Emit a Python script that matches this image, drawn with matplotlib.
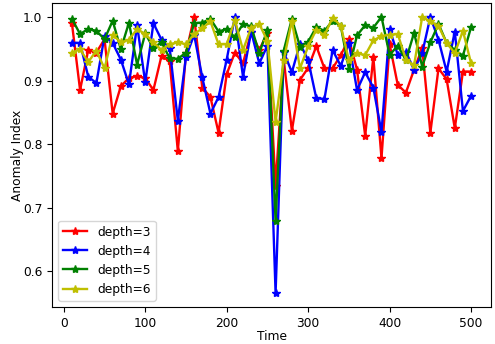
import numpy as np
import matplotlib
matplotlib.use("Agg")
import matplotlib.pyplot as plt

time = np.arange(10, 501, 10)

depth3 = [0.990, 0.885, 0.948, 0.944, 0.965, 0.848, 0.891, 0.904, 0.907, 0.904,
          0.885, 0.939, 0.930, 0.789, 0.943, 1.000, 0.889, 0.874, 0.818, 0.910,
          0.944, 0.927, 0.976, 0.948, 0.975, 0.735, 0.933, 0.821, 0.901, 0.920,
          0.954, 0.919, 0.919, 0.940, 0.965, 0.917, 0.813, 0.937, 0.778, 0.957,
          0.893, 0.881, 0.917, 0.951, 0.818, 0.919, 0.902, 0.825, 0.914, 0.914]

depth4 = [0.959, 0.959, 0.906, 0.896, 0.970, 0.959, 0.933, 0.894, 0.987, 0.897,
          0.990, 0.964, 0.951, 0.837, 0.937, 0.972, 0.905, 0.848, 0.874, 0.933,
          1.000, 0.906, 0.977, 0.927, 0.955, 0.566, 0.945, 0.913, 0.958, 0.932,
          0.872, 0.871, 0.948, 0.923, 0.959, 0.885, 0.913, 0.889, 0.819, 0.981,
          0.940, 0.945, 0.917, 0.943, 1.000, 0.964, 0.914, 0.977, 0.852, 0.876]

depth5 = [0.997, 0.973, 0.981, 0.978, 0.965, 0.994, 0.949, 0.991, 0.925, 0.974,
          0.951, 0.960, 0.935, 0.934, 0.944, 0.990, 0.991, 0.997, 0.977, 0.981,
          0.968, 0.989, 0.985, 0.943, 0.980, 0.679, 0.947, 0.997, 0.953, 0.961,
          0.984, 0.978, 0.994, 0.986, 0.918, 0.971, 0.987, 0.983, 1.000, 0.940,
          0.955, 0.932, 0.975, 0.922, 0.960, 0.989, 0.959, 0.948, 0.939, 0.984]

depth6 = [0.944, 0.949, 0.929, 0.947, 0.919, 0.972, 0.960, 0.964, 0.981, 0.973,
          0.960, 0.948, 0.957, 0.960, 0.957, 0.973, 0.982, 0.993, 0.957, 0.957,
          0.995, 0.948, 0.983, 0.989, 0.962, 0.835, 0.932, 0.994, 0.919, 0.954,
          0.980, 0.971, 0.999, 0.986, 0.932, 0.943, 0.940, 0.963, 0.970, 0.972,
          0.973, 0.933, 0.924, 1.000, 0.993, 0.986, 0.959, 0.943, 0.978, 0.927]

plt.rcParams['font.size'] = 8.8

fig = plt.figure(figsize=(4.95, 3.44), dpi=100)
ax = fig.add_axes([0.105, 0.108, 0.887, 0.883])

ax.plot(time, depth3, color='r', marker='*', linewidth=1.7, markersize=6, label='depth=3')
ax.plot(time, depth4, color='b', marker='*', linewidth=1.7, markersize=6, label='depth=4')
ax.plot(time, depth5, color='g', marker='*', linewidth=1.7, markersize=6, label='depth=5')
ax.plot(time, depth6, color='y', marker='*', linewidth=1.7, markersize=6, label='depth=6')

ax.tick_params(axis='x', pad=4)
ax.set_xlabel('Time', labelpad=0)
ax.set_ylabel('Anomaly Index', labelpad=-1)
ax.legend(loc='lower left')

fig.savefig('out.png')
